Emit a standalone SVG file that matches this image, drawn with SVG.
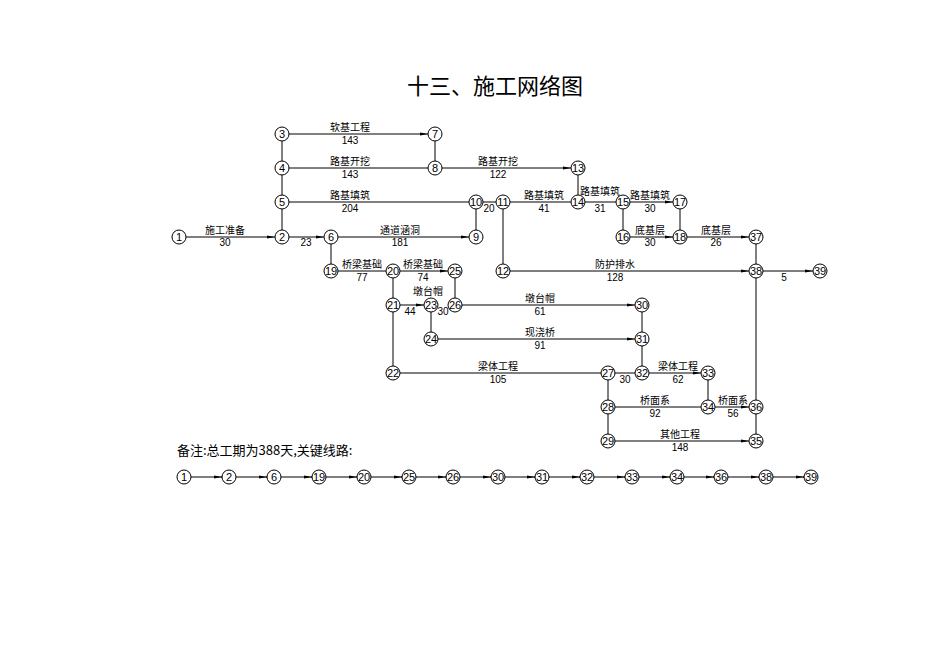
<svg xmlns="http://www.w3.org/2000/svg" width="950" height="672" viewBox="0 0 950 672">
<defs><marker id="a" markerWidth="8" markerHeight="4" refX="8" refY="2" orient="auto" markerUnits="userSpaceOnUse"><path d="M0,0.5L8,2L0,3.5z" fill="#000"/></marker></defs>
<style>
.c{fill:#fff;stroke:#000;stroke-width:1}
.n{font:11px "Liberation Sans",sans-serif;text-anchor:middle;dominant-baseline:central}
.l{font:10px "Liberation Sans","Noto Sans CJK SC",sans-serif;text-anchor:middle}
line{stroke:#000;stroke-width:1}
.ar{marker-end:url(#a)}
</style>
<rect width="950" height="672" fill="#fff"/>
<text x="495" y="94" style="font:22px 'Noto Sans CJK SC',sans-serif;text-anchor:middle">十三、施工网络图</text>
<g id="connectors">
<line x1="289" y1="134" x2="428" y2="134" class="ar"/>
<line x1="289" y1="168" x2="428" y2="168"/>
<line x1="442" y1="168" x2="571" y2="168" class="ar"/>
<line x1="289" y1="202" x2="469" y2="202"/>
<line x1="483" y1="202" x2="496" y2="202"/>
<line x1="510" y1="202" x2="571" y2="202"/>
<line x1="585" y1="202" x2="616" y2="202"/>
<line x1="630" y1="202" x2="673" y2="202" class="ar"/>
<line x1="186" y1="237" x2="275" y2="237" class="ar"/>
<line x1="289" y1="237" x2="324" y2="237" class="ar"/>
<line x1="338" y1="237" x2="469" y2="237" class="ar"/>
<line x1="630" y1="237" x2="673" y2="237" class="ar"/>
<line x1="687" y1="237" x2="749" y2="237" class="ar"/>
<line x1="338" y1="271" x2="386" y2="271"/>
<line x1="400" y1="271" x2="448" y2="271" class="ar"/>
<line x1="510" y1="271" x2="749" y2="271" class="ar"/>
<line x1="763" y1="271" x2="813" y2="271" class="ar"/>
<line x1="400" y1="305" x2="424" y2="305" class="ar"/>
<line x1="462" y1="305" x2="635" y2="305" class="ar"/>
<line x1="438" y1="339" x2="635" y2="339" class="ar"/>
<line x1="400" y1="373" x2="601" y2="373"/>
<line x1="615" y1="373" x2="635" y2="373"/>
<line x1="649" y1="373" x2="701" y2="373" class="ar"/>
<line x1="615" y1="407" x2="701" y2="407"/>
<line x1="715" y1="407" x2="749" y2="407" class="ar"/>
<line x1="615" y1="441" x2="749" y2="441" class="ar"/>
<line x1="282" y1="141" x2="282" y2="230"/>
<line x1="435" y1="141" x2="435" y2="161"/>
<line x1="476" y1="209" x2="476" y2="230"/>
<line x1="503" y1="209" x2="503" y2="264"/>
<line x1="578" y1="175" x2="578" y2="195"/>
<line x1="623" y1="209" x2="623" y2="230"/>
<line x1="680" y1="209" x2="680" y2="230"/>
<line x1="756" y1="244" x2="756" y2="434"/>
<line x1="331" y1="244" x2="331" y2="264"/>
<line x1="393" y1="278" x2="393" y2="366"/>
<line x1="455" y1="278" x2="455" y2="298"/>
<line x1="431" y1="312" x2="431" y2="332"/>
<line x1="642" y1="312" x2="642" y2="366"/>
<line x1="608" y1="380" x2="608" y2="434"/>
<line x1="708" y1="380" x2="708" y2="400"/>
<line x1="191" y1="477" x2="804" y2="477"/>
</g>
<g id="arrowsbottom">
<line x1="221" y1="477" x2="222" y2="477" class="ar"/><line x1="266" y1="477" x2="267" y2="477" class="ar"/><line x1="311" y1="477" x2="312" y2="477" class="ar"/><line x1="356" y1="477" x2="357" y2="477" class="ar"/><line x1="401" y1="477" x2="402" y2="477" class="ar"/><line x1="445" y1="477" x2="446" y2="477" class="ar"/><line x1="490" y1="477" x2="491" y2="477" class="ar"/><line x1="534" y1="477" x2="535" y2="477" class="ar"/><line x1="579" y1="477" x2="580" y2="477" class="ar"/><line x1="624" y1="477" x2="625" y2="477" class="ar"/><line x1="669" y1="477" x2="670" y2="477" class="ar"/><line x1="713" y1="477" x2="714" y2="477" class="ar"/><line x1="758" y1="477" x2="759" y2="477" class="ar"/><line x1="803" y1="477" x2="804" y2="477" class="ar"/>
</g>
<g id="labels">
<text class="l" x="350" y="131">软基工程</text><text class="l" x="350" y="144">143</text>
<text class="l" x="350" y="165">路基开挖</text><text class="l" x="350" y="178">143</text>
<text class="l" x="498" y="165">路基开挖</text><text class="l" x="498" y="178">122</text>
<text class="l" x="350" y="199">路基填筑</text><text class="l" x="350" y="212">204</text>
<text class="l" x="489" y="212">20</text>
<text class="l" x="544" y="199">路基填筑</text><text class="l" x="544" y="212">41</text>
<text class="l" x="600" y="195">路基填筑</text><text class="l" x="600" y="212">31</text>
<text class="l" x="650" y="199">路基填筑</text><text class="l" x="650" y="212">30</text>
<text class="l" x="225" y="234">施工准备</text><text class="l" x="225" y="246">30</text>
<text class="l" x="306" y="246">23</text>
<text class="l" x="400" y="234">通道涵洞</text><text class="l" x="400" y="246">181</text>
<text class="l" x="650" y="234">底基层</text><text class="l" x="650" y="246">30</text>
<text class="l" x="716" y="234">底基层</text><text class="l" x="716" y="246">26</text>
<text class="l" x="362" y="268">桥梁基础</text><text class="l" x="362" y="281">77</text>
<text class="l" x="423" y="268">桥梁基础</text><text class="l" x="423" y="281">74</text>
<text class="l" x="615" y="268">防护排水</text><text class="l" x="615" y="281">128</text>
<text class="l" x="784" y="281">5</text>
<text class="l" x="428" y="295">墩台帽</text>
<text class="l" x="410" y="315">44</text><text class="l" x="443" y="315">30</text>
<text class="l" x="540" y="302">墩台帽</text><text class="l" x="540" y="315">61</text>
<text class="l" x="540" y="336">现浇桥</text><text class="l" x="540" y="349">91</text>
<text class="l" x="498" y="370">梁体工程</text><text class="l" x="498" y="383">105</text>
<text class="l" x="625" y="383">30</text>
<text class="l" x="678" y="370">梁体工程</text><text class="l" x="678" y="383">62</text>
<text class="l" x="655" y="404">桥面系</text><text class="l" x="655" y="417">92</text>
<text class="l" x="733" y="404">桥面系</text><text class="l" x="733" y="417">56</text>
<text class="l" x="680" y="438">其他工程</text><text class="l" x="680" y="451">148</text>
<text x="177" y="455" style="font:13px 'Noto Sans CJK SC',sans-serif">备注:总工期为388天,关键线路:</text>
</g>
<g id="nodes">
<g id="n1"><circle class="c" cx="179" cy="237" r="7"/><text class="n" x="179" y="237">1</text></g>
<g id="n2"><circle class="c" cx="282" cy="237" r="7"/><text class="n" x="282" y="237">2</text></g>
<g id="n3"><circle class="c" cx="282" cy="134" r="7"/><text class="n" x="282" y="134">3</text></g>
<g id="n4"><circle class="c" cx="282" cy="168" r="7"/><text class="n" x="282" y="168">4</text></g>
<g id="n5"><circle class="c" cx="282" cy="202" r="7"/><text class="n" x="282" y="202">5</text></g>
<g id="n6"><circle class="c" cx="331" cy="237" r="7"/><text class="n" x="331" y="237">6</text></g>
<g id="n7"><circle class="c" cx="435" cy="134" r="7"/><text class="n" x="435" y="134">7</text></g>
<g id="n8"><circle class="c" cx="435" cy="168" r="7"/><text class="n" x="435" y="168">8</text></g>
<g id="n9"><circle class="c" cx="476" cy="237" r="7"/><text class="n" x="476" y="237">9</text></g>
<g id="n10"><circle class="c" cx="476" cy="202" r="7"/><text class="n" x="476" y="202">10</text></g>
<g id="n11"><circle class="c" cx="503" cy="202" r="7"/><text class="n" x="503" y="202">11</text></g>
<g id="n12"><circle class="c" cx="503" cy="271" r="7"/><text class="n" x="503" y="271">12</text></g>
<g id="n13"><circle class="c" cx="578" cy="168" r="7"/><text class="n" x="578" y="168">13</text></g>
<g id="n14"><circle class="c" cx="578" cy="202" r="7"/><text class="n" x="578" y="202">14</text></g>
<g id="n15"><circle class="c" cx="623" cy="202" r="7"/><text class="n" x="623" y="202">15</text></g>
<g id="n16"><circle class="c" cx="623" cy="237" r="7"/><text class="n" x="623" y="237">16</text></g>
<g id="n17"><circle class="c" cx="680" cy="202" r="7"/><text class="n" x="680" y="202">17</text></g>
<g id="n18"><circle class="c" cx="680" cy="237" r="7"/><text class="n" x="680" y="237">18</text></g>
<g id="n19"><circle class="c" cx="331" cy="271" r="7"/><text class="n" x="331" y="271">19</text></g>
<g id="n20"><circle class="c" cx="393" cy="271" r="7"/><text class="n" x="393" y="271">20</text></g>
<g id="n21"><circle class="c" cx="393" cy="305" r="7"/><text class="n" x="393" y="305">21</text></g>
<g id="n22"><circle class="c" cx="393" cy="373" r="7"/><text class="n" x="393" y="373">22</text></g>
<g id="n23"><circle class="c" cx="431" cy="305" r="7"/><text class="n" x="431" y="305">23</text></g>
<g id="n24"><circle class="c" cx="431" cy="339" r="7"/><text class="n" x="431" y="339">24</text></g>
<g id="n25"><circle class="c" cx="455" cy="271" r="7"/><text class="n" x="455" y="271">25</text></g>
<g id="n26"><circle class="c" cx="455" cy="305" r="7"/><text class="n" x="455" y="305">26</text></g>
<g id="n27"><circle class="c" cx="608" cy="373" r="7"/><text class="n" x="608" y="373">27</text></g>
<g id="n28"><circle class="c" cx="608" cy="407" r="7"/><text class="n" x="608" y="407">28</text></g>
<g id="n29"><circle class="c" cx="608" cy="441" r="7"/><text class="n" x="608" y="441">29</text></g>
<g id="n30"><circle class="c" cx="642" cy="305" r="7"/><text class="n" x="642" y="305">30</text></g>
<g id="n31"><circle class="c" cx="642" cy="339" r="7"/><text class="n" x="642" y="339">31</text></g>
<g id="n32"><circle class="c" cx="642" cy="373" r="7"/><text class="n" x="642" y="373">32</text></g>
<g id="n33"><circle class="c" cx="708" cy="373" r="7"/><text class="n" x="708" y="373">33</text></g>
<g id="n34"><circle class="c" cx="708" cy="407" r="7"/><text class="n" x="708" y="407">34</text></g>
<g id="n35"><circle class="c" cx="756" cy="441" r="7"/><text class="n" x="756" y="441">35</text></g>
<g id="n36"><circle class="c" cx="756" cy="407" r="7"/><text class="n" x="756" y="407">36</text></g>
<g id="n37"><circle class="c" cx="756" cy="237" r="7"/><text class="n" x="756" y="237">37</text></g>
<g id="n38"><circle class="c" cx="756" cy="271" r="7"/><text class="n" x="756" y="271">38</text></g>
<g id="n39"><circle class="c" cx="820" cy="271" r="7"/><text class="n" x="820" y="271">39</text></g>
</g>
<g id="critical">
<g id="c1"><circle class="c" cx="184" cy="477" r="7"/><text class="n" x="184" y="477">1</text></g>
<g id="c2"><circle class="c" cx="229" cy="477" r="7"/><text class="n" x="229" y="477">2</text></g>
<g id="c6"><circle class="c" cx="274" cy="477" r="7"/><text class="n" x="274" y="477">6</text></g>
<g id="c19"><circle class="c" cx="319" cy="477" r="7"/><text class="n" x="319" y="477">19</text></g>
<g id="c20"><circle class="c" cx="364" cy="477" r="7"/><text class="n" x="364" y="477">20</text></g>
<g id="c25"><circle class="c" cx="409" cy="477" r="7"/><text class="n" x="409" y="477">25</text></g>
<g id="c26"><circle class="c" cx="453" cy="477" r="7"/><text class="n" x="453" y="477">26</text></g>
<g id="c30"><circle class="c" cx="498" cy="477" r="7"/><text class="n" x="498" y="477">30</text></g>
<g id="c31"><circle class="c" cx="542" cy="477" r="7"/><text class="n" x="542" y="477">31</text></g>
<g id="c32"><circle class="c" cx="587" cy="477" r="7"/><text class="n" x="587" y="477">32</text></g>
<g id="c33"><circle class="c" cx="632" cy="477" r="7"/><text class="n" x="632" y="477">33</text></g>
<g id="c34"><circle class="c" cx="677" cy="477" r="7"/><text class="n" x="677" y="477">34</text></g>
<g id="c36"><circle class="c" cx="721" cy="477" r="7"/><text class="n" x="721" y="477">36</text></g>
<g id="c38"><circle class="c" cx="766" cy="477" r="7"/><text class="n" x="766" y="477">38</text></g>
<g id="c39"><circle class="c" cx="811" cy="477" r="7"/><text class="n" x="811" y="477">39</text></g>
</g>
</svg>
